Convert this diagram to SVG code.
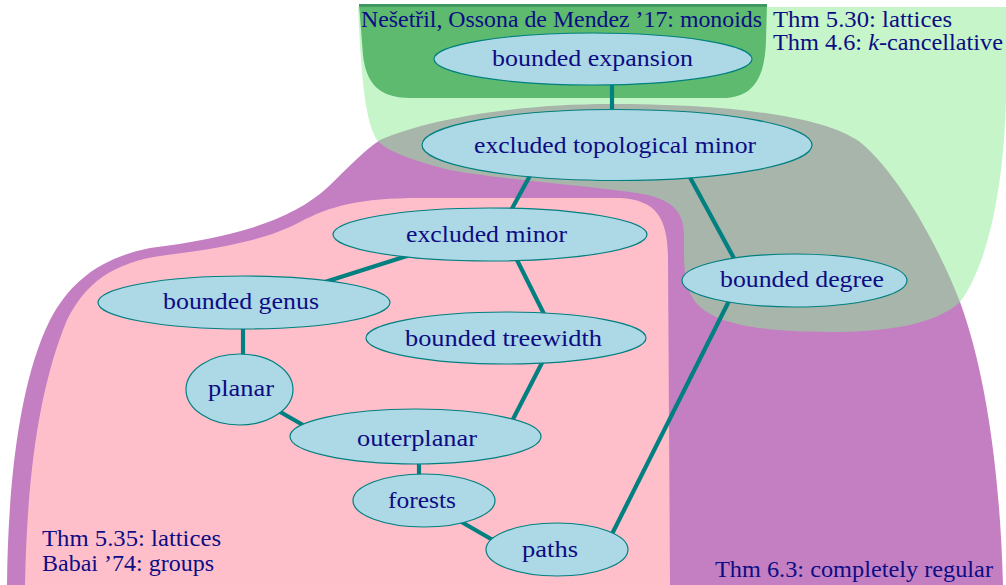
<svg xmlns="http://www.w3.org/2000/svg" width="1006" height="585" viewBox="0 0 1006 585">
<style>
.n ellipse{fill:#add8e6;stroke:#008080;stroke-width:1.2}
text{font-family:'Liberation Serif','DejaVu Serif','Times New Roman',serif;font-size:23px;fill:#0c0c84}
#connectors line{stroke:#008080;stroke-width:4.2;stroke-linecap:butt}
</style>
<rect width="1006" height="585" fill="#ffffff"/>
<g id="regions">
<path id="purple" fill="#c47fc3" d="M 7,585 C 8,480 20,380 50,320 C 70,282 100,258 150,248 C 230,238 290,222 328,187 C 348,168 362,152 380,140 C 430,118 520,104 610,104 C 720,104 820,114 860,142 C 900,175 940,250 960,302 C 985,370 1000,470 1003,585 Z"/>
<path id="lightgreen" fill="rgb(139,236,145)" fill-opacity="0.5" d="M 358,7 L 1006,7 L 1006,100 C 1004,180 990,262 960,302 C 935,325 885,332 830,332 C 770,332 718,326 698,305 C 682,288 684,258 684,235 C 684,210 670,198 637,193 C 580,185 490,178 450,170 C 410,160 385,150 377,140 C 366,120 362,90 358,7 Z"/>
<path id="darkgreen" fill="#5dba6e" d="M 359,4 L 767,4 L 766,40 C 765,80 752,98 722,98 L 410,98 C 378,98 366,82 363,55 Z"/>
<rect x="359" y="4" width="408" height="2.8" fill="#3e9660"/>
<path id="pink" fill="#ffbfca" d="M 25,585 C 27,480 38,390 67,320 C 85,285 110,262 167,255 C 230,247 270,238 300,222 C 330,206 360,198 420,198 L 620,198 C 658,200 668,220 668,260 L 670,585 Z"/>
</g>
<g id="connectors">
<line x1="612" y1="80" x2="612" y2="114"/>
<line x1="532" y1="172" x2="509" y2="214"/>
<line x1="686" y1="170" x2="736" y2="262"/>
<line x1="732" y1="295" x2="609" y2="540"/>
<line x1="410" y1="255" x2="325" y2="282"/>
<line x1="513" y1="252" x2="547" y2="320"/>
<line x1="243" y1="324" x2="243" y2="358"/>
<line x1="275" y1="409" x2="310" y2="429"/>
<line x1="545" y1="357" x2="511" y2="423"/>
<line x1="419" y1="460" x2="419" y2="478"/>
<line x1="458" y1="520" x2="498" y2="543"/>
</g>
<g id="node-bounded-expansion" class="n"><ellipse cx="593" cy="59" rx="159" ry="26"/><text x="492" y="65.5" textLength="201" lengthAdjust="spacingAndGlyphs">bounded expansion</text></g>
<g id="node-excluded-topological-minor" class="n"><ellipse cx="617" cy="145" rx="195" ry="35.5"/><text x="474" y="153" textLength="282" lengthAdjust="spacingAndGlyphs">excluded topological minor</text></g>
<g id="node-excluded-minor" class="n"><ellipse cx="490" cy="234.5" rx="157" ry="26.5"/><text x="406" y="242" textLength="161" lengthAdjust="spacingAndGlyphs">excluded minor</text></g>
<g id="node-bounded-degree" class="n"><ellipse cx="794.5" cy="280.5" rx="112.5" ry="26.5"/><text x="720" y="287" textLength="164" lengthAdjust="spacingAndGlyphs">bounded degree</text></g>
<g id="node-bounded-genus" class="n"><ellipse cx="244" cy="302.5" rx="146" ry="26.5"/><text x="163" y="309" textLength="156" lengthAdjust="spacingAndGlyphs">bounded genus</text></g>
<g id="node-bounded-treewidth" class="n"><ellipse cx="506" cy="338" rx="140" ry="26"/><text x="405" y="346" textLength="197" lengthAdjust="spacingAndGlyphs">bounded treewidth</text></g>
<g id="node-planar" class="n"><ellipse cx="239.5" cy="389.5" rx="53.5" ry="35.5"/><text x="208" y="396" textLength="66" lengthAdjust="spacingAndGlyphs">planar</text></g>
<g id="node-outerplanar" class="n"><ellipse cx="415.5" cy="436.5" rx="125.5" ry="27.5"/><text x="357" y="446" textLength="120" lengthAdjust="spacingAndGlyphs">outerplanar</text></g>
<g id="node-forests" class="n"><ellipse cx="424" cy="500.5" rx="71" ry="26.5"/><text x="388" y="508" textLength="68" lengthAdjust="spacingAndGlyphs">forests</text></g>
<g id="node-paths" class="n"><ellipse cx="557" cy="549.5" rx="71" ry="26.5"/><text x="522" y="557" textLength="56" lengthAdjust="spacingAndGlyphs">paths</text></g>
<g id="labels">
<text x="361" y="27" textLength="401" lengthAdjust="spacingAndGlyphs">Nešetřil, Ossona de Mendez ’17: monoids</text>
<text x="773" y="27" textLength="179" lengthAdjust="spacingAndGlyphs">Thm 5.30: lattices</text>
<text x="773" y="50" textLength="230" lengthAdjust="spacingAndGlyphs">Thm 4.6: <tspan font-style="italic">k</tspan>-cancellative</text>
<text x="42" y="546" textLength="179" lengthAdjust="spacingAndGlyphs">Thm 5.35: lattices</text>
<text x="42" y="571" textLength="172" lengthAdjust="spacingAndGlyphs">Babai ’74: groups</text>
<text x="715" y="577" textLength="278" lengthAdjust="spacingAndGlyphs">Thm 6.3: completely regular</text>
</g>
</svg>
